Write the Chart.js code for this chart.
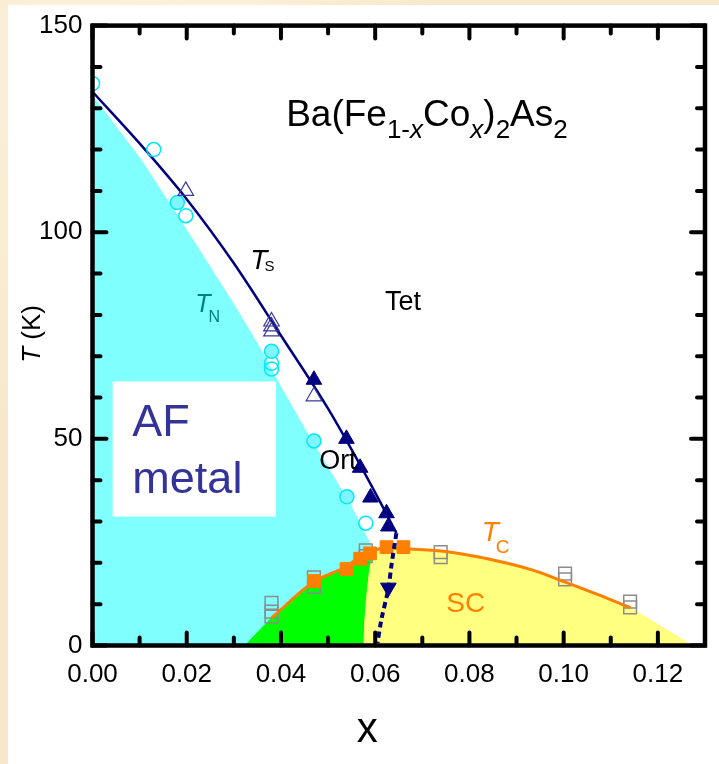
<!DOCTYPE html>
<html>
<head>
<meta charset="utf-8">
<script src="https://cdn.jsdelivr.net/npm/chart.js@4.4.0/dist/chart.umd.min.js"></script>
<style>
html, body { margin: 0; padding: 0; }
body {
    width: 719px; height: 764px; position: relative; overflow: hidden;
    background: #f7e8cb;
    background-image:
        radial-gradient(ellipse at 20% 10%, rgba(255,250,235,0.6), rgba(255,250,235,0) 40%),
        radial-gradient(ellipse at 80% 90%, rgba(240,220,180,0.5), rgba(240,220,180,0) 45%);
}
#panel { position: absolute; left: 8px; top: 5px; right: 0; bottom: 0; background: #fff; }
#fase { position: absolute; left: 0; top: 0; }
</style>
</head>
<body>
<div id="panel"></div>
<canvas id="fase" width="719" height="764"></canvas>
<script>
const FONT = '"Liberation Sans", Arial, Helvetica, sans-serif';

// axis ticks
const xTicks = { min: 0, max: 0.13, step: 0.01 };
const yTicks = { min: 0, max: 150, step: 10 };

// T_N, open and filled circles
const tnOpenX = [0, 0.013, 0.0198, 0.038, 0.038, 0.058];
const tnOpenT = [136, 120, 104, 68.3, 66.9, 29.6];
const tnFullX = [0.018, 0.038, 0.047, 0.054];
const tnFullT = [107.2, 71.2, 49.5, 36];

// T_S, open and filled triangles
const tsOpenX = [0.0198, 0.038, 0.038, 0.038, 0.047];
const tsOpenT = [110, 78.4, 77.2, 76, 60.3];
const tsFullX = [0.047, 0.0539, 0.0568, 0.059, 0.0624, 0.0628];
const tsFullT = [64.3, 50, 43, 35.8, 32, 28.8];
const tsDownX = [0.0628];
const tsDownT = [14];

// T_C, filled orange squares and grey open squares
const tcFullX = [0.047, 0.0539, 0.0568, 0.0589, 0.0624, 0.066];
const tcFullT = [15.6, 18.5, 21, 22.3, 23.8, 23.8];
const tcGreyX = [0.038, 0.038, 0.038, 0.047, 0.047, 0.058, 0.058, 0.0739, 0.0739, 0.1003, 0.1003, 0.1141, 0.1141];
const tcGreyT = [10.3, 8.2, 7.0, 16.5, 14.2, 23, 21.6, 22.6, 21.4, 17.4, 16.0, 10.6, 9.2];

// guide lines
const tsLineX = [0, 0.01, 0.02, 0.03, 0.04, 0.05, 0.06, 0.0645];
const tsLineT = [134, 121.5, 108, 92.5, 75, 57.3, 37, 27.2];
const tsDashX = [0.0645, 0.0634, 0.0628, 0.0613, 0.0605];
const tsDashT = [27.2, 19, 13.8, 6.2, 0.6];
const tcLineX = [0.038, 0.047, 0.0537, 0.0568, 0.062, 0.0668, 0.0745, 0.085, 0.0933, 0.1002, 0.1073, 0.1142];
const tcLineT = [6.7, 15.4, 19, 21.4, 23.6, 23.4, 22.8, 20.7, 18.3, 15.4, 12.3, 9.1];

// phase regions
const afEdgeX = [0, 0, 0.01, 0.02, 0.03, 0.035, 0.04, 0.045, 0.05, 0.055, 0.0596];
const afEdgeT = [0, 133, 118, 100.5, 82.5, 73, 62.5, 52.5, 43, 33.5, 23];
const scEdgeX = [0.0596, 0.0588, 0.0582, 0.0578, 0.0576];   // green / yellow border, top to bottom
const scEdgeT = [23, 18, 12, 6, 0];
const coexStartX = [0.0324];
const coexStartT = [0];
const scEndX = [0.1273];
const scEndT = [0];

const pts = (xs, ts) => xs.map((x, i) => ({ x, y: ts[i] }));

const tcUpTo = pts(tcLineX, tcLineT).filter(p => p.x < 0.0596);
const tcFrom = pts(tcLineX, tcLineT).filter(p => p.x > 0.0596);

const fillSet = (data, color) => ({
    data, showLine: true, fill: 'shape', tension: 0, pointRadius: 0, pointHoverRadius: 0,
    backgroundColor: color, borderColor: color, borderWidth: 1, order: 9, clip: 0
});
const markSet = (data, style, r, bg, edge, bw, order, extra) => Object.assign({
    data, pointStyle: style, pointRadius: r, pointHoverRadius: r,
    backgroundColor: bg, borderColor: edge, borderWidth: bw, order
}, extra || {});
const lineSet = (data, color, width, order, extra) => Object.assign({
    data, showLine: true, borderColor: color, borderWidth: width,
    cubicInterpolationMode: 'monotone', pointRadius: 0, order
}, extra || {});

const datasets = [
    lineSet(pts(tsDashX, tsDashT), '#000080', 4, 0, { borderDash: [6, 4], cubicInterpolationMode: 'default', tension: 0.3 }),
    markSet(pts(tsFullX, tsFullT), 'triangle', 9, '#000080', '#000080', 1, 1),
    markSet(pts(tsDownX, tsDownT), 'triangle', 9, '#000080', '#000080', 1, 1, { pointRotation: 180 }),
    markSet(pts(tsOpenX, tsOpenT), 'triangle', 9, 'rgba(0,0,0,0)', '#3a3a9a', 1.2, 2),
    markSet(pts(tcFullX, tcFullT), 'rect', 9, '#ff7f00', '#ff7f00', 1, 2),
    markSet(pts(tnFullX, tnFullT), 'circle', 7, '#7ff6ff', '#00e8ff', 1.5, 3),
    markSet(pts(tnOpenX, tnOpenT), 'circle', 7, 'rgba(0,0,0,0)', '#00e8ff', 1.5, 3, { clip: 0 }),
    lineSet(pts(tsLineX, tsLineT), '#000080', 2.5, 4),
    lineSet(pts(tcLineX, tcLineT), '#ff7f00', 3, 5),
    markSet(pts(tcGreyX, tcGreyT), 'rect', 9, 'rgba(0,0,0,0)', '#8c8c8c', 1.5, 6),
    fillSet([...pts(scEdgeX, scEdgeT).reverse(), ...tcFrom, ...pts(scEndX, scEndT)], '#ffff80'),
    fillSet([...pts(coexStartX, coexStartT), ...tcUpTo, ...pts(scEdgeX, scEdgeT)], '#00ff00'),
    fillSet([...pts(afEdgeX, afEdgeT), ...pts(scEdgeX, scEdgeT).slice(1)], '#80ffff')
];

// draw a run of text pieces with mixed fonts / subscripts
function runs(ctx, x, y, parts) {
    parts.forEach(p => {
        ctx.font = p.f;
        ctx.fillText(p.t, x, y + (p.dy || 0));
        x += ctx.measureText(p.t).width + (p.dx || 0);
    });
}
const f = (size, style) => `${style || ''} ${size}px ${FONT}`;

const decor = {
    id: 'decor',
    afterDatasetsDraw(chart) {
        const { ctx, scales: { x, y } } = chart;
        const X = v => x.getPixelForValue(v), Y = v => y.getPixelForValue(v);
        ctx.save();

        // AF metal box
        ctx.fillStyle = '#fff';
        ctx.fillRect(X(0.00428), Y(63.9), X(0.03895) - X(0.00428), Y(31.2) - Y(63.9));
        ctx.fillStyle = '#333399';
        ctx.font = f(45);
        ctx.textAlign = 'left'; ctx.textBaseline = 'alphabetic';
        ctx.fillText('AF', X(0.00846), Y(50.6));
        ctx.fillText('metal', X(0.00846), Y(36.9));

        ctx.fillStyle = '#000';
        runs(ctx, X(0.0411), Y(125.7), [
            { t: 'Ba(Fe', f: f(37) },
            { t: '1-', f: f(26), dy: 12 },
            { t: 'x', f: f(26, 'italic'), dy: 12 },
            { t: 'Co', f: f(37) },
            { t: 'x', f: f(26, 'italic'), dy: 12 },
            { t: ')', f: f(37) },
            { t: '2', f: f(26), dy: 12 },
            { t: 'As', f: f(37) },
            { t: '2', f: f(26), dy: 12 }
        ]);
        ctx.font = f(27);
        ctx.fillText('Tet', X(0.0621), Y(81.2));
        ctx.fillText('Ort', X(0.0481), Y(42.7));

        runs(ctx, X(0.0335), Y(91.1), [
            { t: 'T', f: f(28, 'italic'), dx: -3 }, { t: 'S', f: f(15), dy: 2 }
        ]);
        ctx.fillStyle = '#008080';
        runs(ctx, X(0.0218), Y(80.7), [
            { t: 'T', f: f(25, 'italic'), dx: -2 }, { t: 'N', f: f(16), dy: 10 }
        ]);
        ctx.fillStyle = '#ff7f00';
        runs(ctx, X(0.0826), Y(25.4), [
            { t: 'T', f: f(28, 'italic'), dx: -3 }, { t: 'C', f: f(19), dy: 12 }
        ]);
        ctx.font = f(28);
        ctx.fillText('SC', X(0.0751), Y(8.06));
        ctx.restore();
    },
    afterDraw(chart) {
        const { ctx, chartArea: a, scales: { x, y } } = chart;
        ctx.save();
        ctx.strokeStyle = '#000'; ctx.lineWidth = 4;
        ctx.lineCap = 'round';
        x.ticks.forEach(t => {
            const px = x.getPixelForValue(t.value);
            const len = Math.round(t.value * 100) % 2 === 0 ? 13 : 8;
            ctx.beginPath();
            ctx.moveTo(px, a.bottom); ctx.lineTo(px, a.bottom - len);
            ctx.moveTo(px, a.top); ctx.lineTo(px, a.top + len);
            ctx.stroke();
        });
        y.ticks.forEach(t => {
            const py = y.getPixelForValue(t.value);
            const len = t.value % 50 === 0 ? 14 : 8;
            ctx.beginPath();
            ctx.moveTo(a.left, py); ctx.lineTo(a.left + len, py);
            ctx.moveTo(a.right, py); ctx.lineTo(a.right - len, py);
            ctx.stroke();
        });
        ctx.lineCap = 'butt'; ctx.lineWidth = 4.5;
        ctx.strokeRect(a.left, a.top, a.right - a.left, a.bottom - a.top);

        // axis titles
        ctx.fillStyle = '#000';
        ctx.font = f(42);
        ctx.textAlign = 'center'; ctx.textBaseline = 'alphabetic';
        ctx.fillText('x', x.getPixelForValue(0.0583), 742);

        ctx.translate(39.5, y.getPixelForValue(75.4));
        ctx.rotate(-Math.PI / 2);
        ctx.textAlign = 'left';
        ctx.font = f(26, 'italic');
        const w1 = ctx.measureText('T').width;
        ctx.font = f(26);
        const w2 = ctx.measureText(' (K)').width;
        runs(ctx, -(w1 + w2) / 2, 0, [{ t: 'T', f: f(26, 'italic') }, { t: ' (K)', f: f(26) }]);
        ctx.restore();
    }
};

new Chart(document.getElementById('fase'), {
    type: 'scatter',
    data: { datasets },
    options: {
        responsive: false,
        animation: false,
        events: [],
        layout: { padding: { left: 0, top: 22, right: 4, bottom: 0 } },
        plugins: { legend: { display: false }, tooltip: { enabled: false } },
        scales: {
            x: {
                type: 'linear', min: xTicks.min, max: xTicks.max,
                grid: { display: false, drawTicks: false }, border: { display: false },
                ticks: {
                    stepSize: xTicks.step, autoSkip: false, maxRotation: 0, padding: 14,
                    color: '#000', font: { size: 26, family: FONT },
                    callback: v => Math.round(v * 100) % 2 === 0 ? v.toFixed(2) : ''
                },
                afterFit: s => { s.height = 118.5; }
            },
            y: {
                type: 'linear', min: yTicks.min, max: yTicks.max,
                grid: { display: false, drawTicks: false }, border: { display: false },
                ticks: {
                    stepSize: yTicks.step, autoSkip: false, padding: 10,
                    color: '#000', font: { size: 26, family: FONT },
                    callback: v => v % 50 === 0 ? String(v) : ''
                },
                afterFit: s => { s.width = 92.5; }
            }
        }
    },
    plugins: [decor]
});
</script>
</body>
</html>
